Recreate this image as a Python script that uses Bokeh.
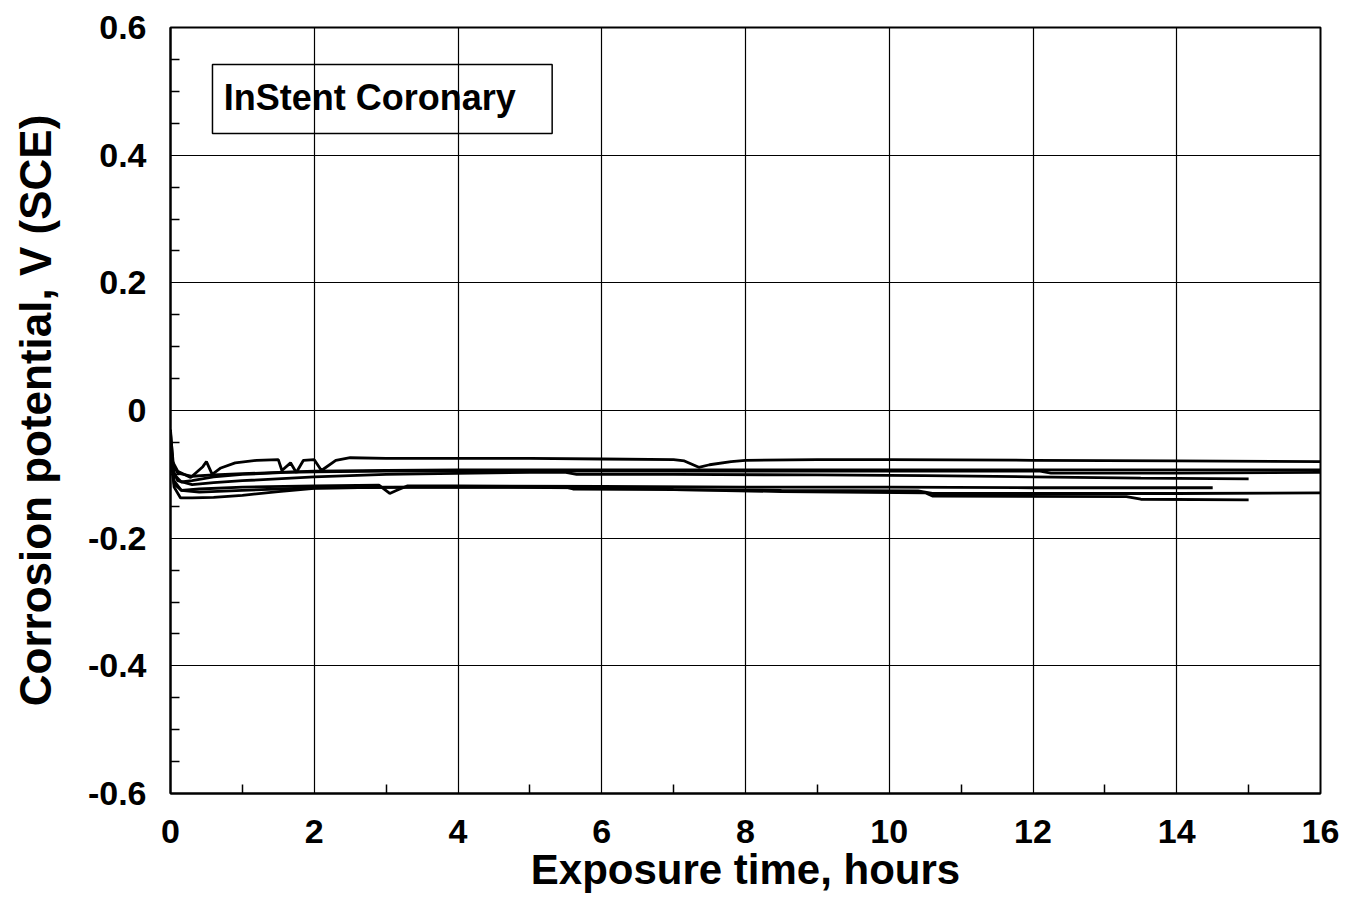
from bokeh.plotting import figure
from bokeh.models import Range1d, FixedTicker, CustomJSTickFormatter, BoxAnnotation, Label
from bokeh.embed import file_html
from bokeh.resources import INLINE

# ---- data (hours, V vs SCE) ----
a_x = [0, 0.03, 0.1, 0.28, 0.45, 0.5, 0.58, 0.7, 0.9, 1.2, 1.5, 1.55, 1.67, 1.75, 1.85, 2.0, 2.1, 2.3, 2.5, 3.0, 4.0, 5.0, 6.0, 7.0, 7.15, 7.35, 7.5, 7.8, 8.0, 9.0, 10.0, 12.0, 14.0, 16.0]
a_y = [-0.03, -0.08, -0.095, -0.105, -0.088, -0.08, -0.1, -0.09, -0.082, -0.078, -0.077, -0.094, -0.082, -0.097, -0.078, -0.077, -0.094, -0.078, -0.074, -0.075, -0.075, -0.075, -0.076, -0.077, -0.079, -0.089, -0.085, -0.08, -0.078, -0.077, -0.077, -0.078, -0.079, -0.08]

b_x = [0, 0.04, 0.1, 0.3, 0.6, 1.0, 1.5, 2.0, 3, 4, 6, 8, 10, 12, 14, 16]
b_y = [-0.035, -0.085, -0.098, -0.103, -0.101, -0.099, -0.097, -0.095, -0.094, -0.093, -0.093, -0.093, -0.093, -0.093, -0.093, -0.093]

c_x = [0, 0.05, 0.15, 0.3, 0.6, 1.0, 1.6, 2.0, 3, 5, 7, 9, 11, 12.1, 12.25, 14, 16]
c_y = [-0.05, -0.1, -0.112, -0.11, -0.104, -0.1, -0.097, -0.096, -0.095, -0.095, -0.095, -0.095, -0.095, -0.095, -0.098, -0.098, -0.097]

d_x = [0, 0.04, 0.1, 0.3, 0.6, 1.0, 2.0, 3, 5, 5.5, 5.65, 7, 9, 10.5, 12, 13.5, 15]
d_y = [-0.06, -0.095, -0.11, -0.116, -0.113, -0.11, -0.104, -0.1, -0.097, -0.097, -0.1, -0.1, -0.101, -0.102, -0.104, -0.106, -0.107]

e_x = [0, 0.05, 0.15, 0.4, 1.0, 2.0, 2.9, 3.05, 3.15, 3.3, 4, 6, 8, 10, 12, 14.5]
e_y = [-0.07, -0.115, -0.125, -0.123, -0.12, -0.118, -0.117, -0.13, -0.125, -0.118, -0.118, -0.119, -0.12, -0.12, -0.121, -0.121]

f_x = [0, 0.05, 0.14, 0.3, 0.6, 1.0, 1.5, 2.0, 3, 5.5, 5.6, 7, 8.5, 10.4, 10.6, 12, 14, 16]
f_y = [-0.06, -0.12, -0.137, -0.137, -0.136, -0.133, -0.127, -0.122, -0.12, -0.12, -0.123, -0.124, -0.125, -0.126, -0.13, -0.13, -0.13, -0.129]

g_x = [0, 0.05, 0.15, 0.4, 1.0, 2.0, 4, 6.9, 7.0, 8.5, 10.5, 10.6, 13.3, 13.5, 15]
g_y = [-0.06, -0.11, -0.125, -0.128, -0.125, -0.121, -0.12, -0.122, -0.124, -0.127, -0.129, -0.134, -0.135, -0.139, -0.14]

series = [(a_x, a_y), (b_x, b_y), (c_x, c_y), (d_x, d_y), (e_x, e_y), (f_x, f_y), (g_x, g_y)]

x_ticks = [0, 2, 4, 6, 8, 10, 12, 14, 16]
x_minor = [1, 3, 5, 7, 9, 11, 13, 15]
y_ticks = [-0.6, -0.4, -0.2, 0, 0.2, 0.4, 0.6]
y_minor = [-0.55, -0.5, -0.45, -0.35, -0.3, -0.25, -0.15, -0.1, -0.05,
           0.05, 0.1, 0.15, 0.25, 0.3, 0.35, 0.45, 0.5, 0.55]

title_text = "InStent Coronary"
x_label = "Exposure time, hours"
y_label = "Corrosion potential, V (SCE)"

FONT = "Liberation Sans"

p = figure(width=1340, height=910, output_backend="svg", toolbar_location=None,
           x_range=Range1d(0, 16), y_range=Range1d(-0.6, 0.6),
           min_border_left=170, min_border_right=20, min_border_top=27, min_border_bottom=117)
p.background_fill_color = "white"
p.border_fill_color = "white"
p.outline_line_color = "black"
p.outline_line_width = 2

for xs, ys in series:
    p.line(xs, ys, line_color="black", line_width=2.8)

# axes
p.xaxis.ticker = FixedTicker(ticks=x_ticks, minor_ticks=x_minor)
p.yaxis.ticker = FixedTicker(ticks=y_ticks, minor_ticks=y_minor)
p.yaxis.formatter = CustomJSTickFormatter(code="return Math.abs(tick) < 1e-9 ? '0' : tick.toFixed(1);")
p.xaxis.formatter = CustomJSTickFormatter(code="return tick.toFixed(0);")

for ax in (p.xaxis, p.yaxis):
    ax.axis_line_color = "black"
    ax.axis_line_width = 2
    ax.major_tick_in = 0
    ax.major_tick_out = 0
    ax.minor_tick_in = 9
    ax.minor_tick_out = 0
    ax.minor_tick_line_color = "black"
    ax.minor_tick_line_width = 1.5
    ax.major_label_text_font = FONT
    ax.major_label_text_font_style = "bold"
    ax.major_label_text_font_size = "34px"
    ax.major_label_text_color = "black"
    ax.axis_label_text_font = FONT
    ax.axis_label_text_font_style = "bold"
    ax.axis_label_text_color = "black"

p.xaxis.axis_label = x_label
p.yaxis.axis_label = y_label
p.xaxis.axis_label_text_font_size = "42px"
p.yaxis.axis_label_text_font_size = "44px"
p.xaxis.major_label_standoff = 26
p.yaxis.major_label_standoff = 24
p.xaxis.axis_label_standoff = 0
p.yaxis.axis_label_standoff = 25

p.xgrid.ticker = FixedTicker(ticks=x_ticks)
p.ygrid.ticker = FixedTicker(ticks=y_ticks)
for g in (p.xgrid, p.ygrid):
    g.grid_line_color = "black"
    g.grid_line_alpha = 1.0
    g.grid_line_width = 1.2

# annotation box
box = BoxAnnotation(left=0.584, right=5.31, top=0.542, bottom=0.434,
                    fill_alpha=0, line_color="black", line_alpha=1.0, line_width=1.5)
p.add_layout(box)
lbl = Label(x=0.74, y=0.49, text=title_text, text_font=FONT, text_font_style="bold",
            text_font_size="36px", text_baseline="middle", text_align="left", text_color="black")
p.add_layout(lbl)

open("out.html", "w").write(file_html(p, INLINE))
